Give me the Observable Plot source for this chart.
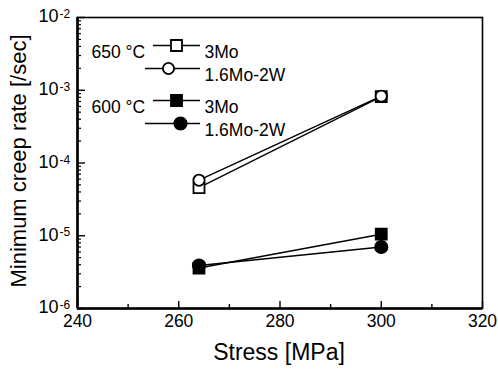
<!DOCTYPE html>
<html><head><meta charset="utf-8">
<script src="https://cdn.jsdelivr.net/npm/d3@7"></script>
<script src="https://cdn.jsdelivr.net/npm/@observablehq/plot@0.6"></script>
<style>
body{margin:0;background:#fff;}
svg{font-family:"Liberation Sans",Arial,sans-serif;}
</style>
</head><body><div id="chart"></div>
<script>
// ---- data ----
const stress = [264, 300];
const rate650_3Mo = [4.6e-5, 8.2e-4];
const rate650_16Mo2W = [5.8e-5, 8.3e-4];
const rate600_3Mo = [3.6e-6, 1.05e-5];
const rate600_16Mo2W = [3.9e-6, 7.0e-6];
const seriesNames = ["650 °C 3Mo", "650 °C 1.6Mo-2W", "600 °C 3Mo", "600 °C 1.6Mo-2W"];
const xTicks = [240, 260, 280, 300, 320];
const xMinorTicks = [250, 270, 290, 310];
const yDecades = [1e-6, 1e-5, 1e-4, 1e-3, 1e-2];
const legendTemps = ["650 °C", "", "600 °C", ""];
const legendAlloys = ["3Mo", "1.6Mo-2W", "3Mo", "1.6Mo-2W"];

// ---- styles ----
const seriesValues = [rate650_3Mo, rate650_16Mo2W, rate600_3Mo, rate600_16Mo2W];
const symbols = ["square", "circle", "square", "circle"];
const fills = ["white", "white", "black", "black"];
const radii = [6.2, 5.6, 6.2, 6.2];

const W = 498, H = 369, mL = 77, mR = 16, mT = 17, mB = 61;
const fw = W - mL - mR, fh = H - mT - mB;

const rows = seriesNames.flatMap((s, i) => stress.map((x, j) => ({series: s, stress: x, rate: seriesValues[i][j], i})));
const yMinor = yDecades.slice(0, -1).flatMap(d => d3.range(2, 10).map(k => k * d));

const marks = [];
// inward ticks
marks.push(Plot.tickY(yDecades, {y: d => d, insetRight: fw - 8, stroke: "black", strokeWidth: 1.4}));
marks.push(Plot.tickY(yMinor, {y: d => d, insetRight: fw - 4, stroke: "black", strokeWidth: 1.2}));
marks.push(Plot.tickX(xTicks, {x: d => d, insetTop: fh - 7, stroke: "black", strokeWidth: 1.4}));
marks.push(Plot.tickX(xMinorTicks, {x: d => d, insetTop: fh - 4, stroke: "black", strokeWidth: 1.4}));
marks.push(Plot.frame({stroke: "black", strokeWidth: 1.6}));
marks.push(Plot.ruleX([240], {stroke: "black", strokeWidth: 2.6}));
marks.push(Plot.ruleY([1e-6], {stroke: "black", strokeWidth: 2.6}));

// tick labels
marks.push(Plot.text(xTicks, {x: d => d, frameAnchor: "bottom", dy: 18, text: d => String(d), fontSize: 17.5, fill: "black", style: "letter-spacing:-0.5px"}));
marks.push(Plot.text(yDecades, {y: d => d, frameAnchor: "left", dx: -19, dy: -1, text: () => "10", textAnchor: "end", fontSize: 18, fill: "black"}));
marks.push(Plot.text(yDecades, {y: d => d, frameAnchor: "left", dx: -18, dy: -8, lineAnchor: "top", text: d => String(Math.round(Math.log10(d))), textAnchor: "start", fontSize: 12, fill: "black"}));

// axis titles
marks.push(Plot.text(["Minimum creep rate [/sec]"], {x: null, y: null, frameAnchor: "left", dx: -52, dy: -2, rotate: -90, textAnchor: "middle", lineAnchor: "bottom", text: d => d, fontSize: 22, fill: "black"}));
marks.push(Plot.text(["Stress [MPa]"], {x: null, y: null, frameAnchor: "bottom", textAnchor: "middle", dx: -1, dy: 51, text: d => d, fontSize: 23, fill: "black", style: "word-spacing:5px"}));

// data lines & points
marks.push(Plot.line(rows, {x: "stress", y: "rate", z: "series", stroke: "black", strokeWidth: 1.4}));
seriesNames.forEach((s, i) => {
  marks.push(Plot.dot(rows.filter(r => r.i === i), {x: "stress", y: "rate", symbol: symbols[i], r: radii[i], fill: fills[i], stroke: "black", strokeWidth: 1.8}));
});

// legend
const legDy = [28, 51, 83, 106];
const legLine = [[76, 123], [68, 123], [76, 123], [68, 123]];
const legSym = [99, 91, 99, 103];
legendAlloys.forEach((a, i) => {
  const [x0, x1] = legLine[i];
  marks.push(Plot.ruleY([0], {y: null, dy: legDy[i] - fh / 2, insetLeft: x0, insetRight: fw - x1, stroke: "black", strokeWidth: 1.4}));
  marks.push(Plot.dot([0], {x: null, y: null, frameAnchor: "top-left", dx: legSym[i], dy: legDy[i], symbol: symbols[i], r: radii[i], fill: fills[i], stroke: "black", strokeWidth: 1.8}));
  marks.push(Plot.text([a], {x: null, y: null, frameAnchor: "top-left", dx: 127, dy: legDy[i], text: d => d, textAnchor: "start", fontSize: 17.5, fill: "black"}));
  if (legendTemps[i]) marks.push(Plot.text([legendTemps[i]], {x: null, y: null, frameAnchor: "top-left", dx: 14, dy: legDy[i], text: d => d, textAnchor: "start", fontSize: 17.5, fill: "black"}));
});

const chart = Plot.plot({
  width: W, height: H,
  marginLeft: mL, marginRight: mR, marginTop: mT, marginBottom: mB,
  x: {domain: [240, 320], axis: null},
  y: {type: "log", domain: [1e-6, 1e-2], axis: null},
  style: {background: "white", color: "black", fontFamily: "Liberation Sans, Arial, sans-serif"},
  marks
});
document.getElementById("chart").append(chart);
</script>
</body></html>
